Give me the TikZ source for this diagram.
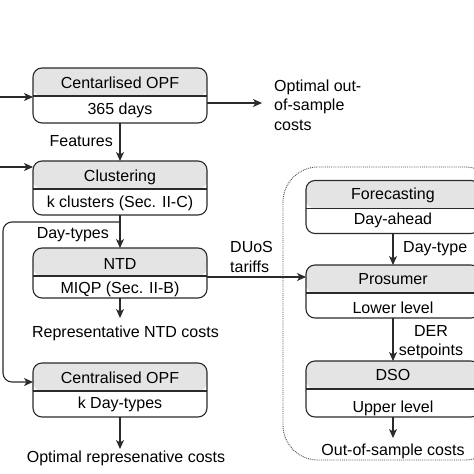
\documentclass[tikz,border=0pt]{standalone}
\usepackage{fontspec}
\setmainfont{Liberation Sans}
\usetikzlibrary{arrows.meta}
\definecolor{linec}{HTML}{2A2A2A}
\definecolor{hdrfill}{HTML}{E4E4E4}
\tikzset{
  box/.style={draw=linec, line width=1.1pt, rounded corners=9pt, minimum width=174pt,
    minimum height=#1, inner sep=0pt, outer sep=0pt,
    path picture={\fill[hdrfill] (path picture bounding box.north west) rectangle ([yshift=-28pt]path picture bounding box.north east);
      \draw[linec, line width=1.1pt] ([yshift=-28pt]path picture bounding box.north west) -- ([yshift=-28pt]path picture bounding box.north east);}},
  lbl/.style={inner sep=0pt, text height=11.5pt, text depth=0pt, font=\fontsize{16}{19}\selectfont, text=black},
  mlbl/.style={inner sep=0pt, font=\fontsize{16}{19.5}\selectfont, text=black},
  arr/.style={draw=linec, line width=1.1pt, -{Stealth[length=9pt, width=8pt, inset=2.5pt]}},
  group/.style={draw=black!70, line width=0.9pt, densely dotted, rounded corners=35pt}
}
\begin{document}
\begin{tikzpicture}[x=1pt, y=-1pt]
\clip (0,0) rectangle (474,474);
\fill[white] (0,0) rectangle (474,474);

% group boundary
\draw[group] (283,167) rectangle (500,460);

% left column boxes
\node[box=55pt] (opf1) at (120,95.5) {};
\node[lbl] (opf1h) at (120,82.5) {Centarlised OPF};
\node[lbl] (opf1b) at (120,108.5) {365 days};

\node[box=54pt] (clu) at (120,188) {};
\node[lbl] (cluh) at (120,176) {Clustering};
\node[lbl] (club) at (120,202) {k clusters (Sec. II-C)};

\node[box=50pt] (ntd) at (120,273) {};
\node[lbl] (ntdh) at (120,263.5) {NTD};
\node[lbl] (ntdb) at (120,288) {MIQP (Sec. II-B)};

\node[box=54pt] (opf2) at (120,390) {};
\node[lbl] (opf2h) at (120,377.5) {Centralised OPF};
\node[lbl] (opf2b) at (120,403) {k Day-types};

% right column boxes
\node[box=53pt] (fc) at (393,207) {};
\node[lbl] (fch) at (393,193.5) {Forecasting};
\node[lbl] (fcb) at (393,219) {Day-ahead};

\node[box=53pt] (pro) at (393,291.5) {};
\node[lbl] (proh) at (393,279) {Prosumer};
\node[lbl] (prob) at (393,307.5) {Lower level};

\node[box=56pt] (dso) at (393,389) {};
\node[lbl] (dsoh) at (393,375) {DSO};
\node[lbl] (dsob) at (393,406.5) {Upper level};

% output / edge labels
\node[mlbl, anchor=west, align=left] (oos) at (274,105) {Optimal out-\\of-sample\\costs};
\node[lbl, anchor=east] (feat) at (113,141) {Features};
\node[lbl, anchor=east] (dayt) at (109,233) {Day-types};
\node[mlbl, anchor=west, align=left] (duos) at (230,257) {DUoS\\tariffs};
\node[lbl, anchor=west] (dayt1) at (403,247) {Day-type};
\node[mlbl, align=center] (der) at (431,342) {DER\\setpoints};
\node[lbl] (rep) at (125.5,331.5) {Representative NTD costs};
\node[lbl] (optrep) at (126,456.5) {Optimal represenative costs};
\node[lbl] (ooc) at (393,450) {Out-of-sample costs};

% connectors
\coordinate (in1) at (-5,97);
\coordinate (in2) at (-5,167);
\draw[arr] (in1) -- (in1 -| opf1.west);
\draw[arr] (in2) -- (in2 -| clu.west);
\coordinate (oosa) at (262,103);
\draw[arr] (oosa -| opf1.east) -- (oosa);
\draw[arr] (opf1.south) -- (clu.north);
\draw[arr] (clu.south) -- (ntd.north);
\coordinate (br) at (120,222);
\coordinate (brl) at (3,222);
\coordinate (in3) at (3,382);
\draw[arr, rounded corners=9pt] (br) -- (brl) -- (in3) -- (in3 -| opf2.west);
\coordinate (repa) at (120,318);
\coordinate (optrepa) at (120,449);
\coordinate (ooca) at (393,438);
\draw[arr] (ntd.south) -- (repa);
\draw[arr] (opf2.south) -- (optrepa);
\coordinate (du) at (0,277);
\draw[arr] (du -| ntd.east) -- (du -| pro.west);
\draw[arr] (fc.south) -- (pro.north);
\draw[arr] (pro.south) -- (dso.north);
\draw[arr] (dso.south) -- (ooca);
\end{tikzpicture}
\end{document}
